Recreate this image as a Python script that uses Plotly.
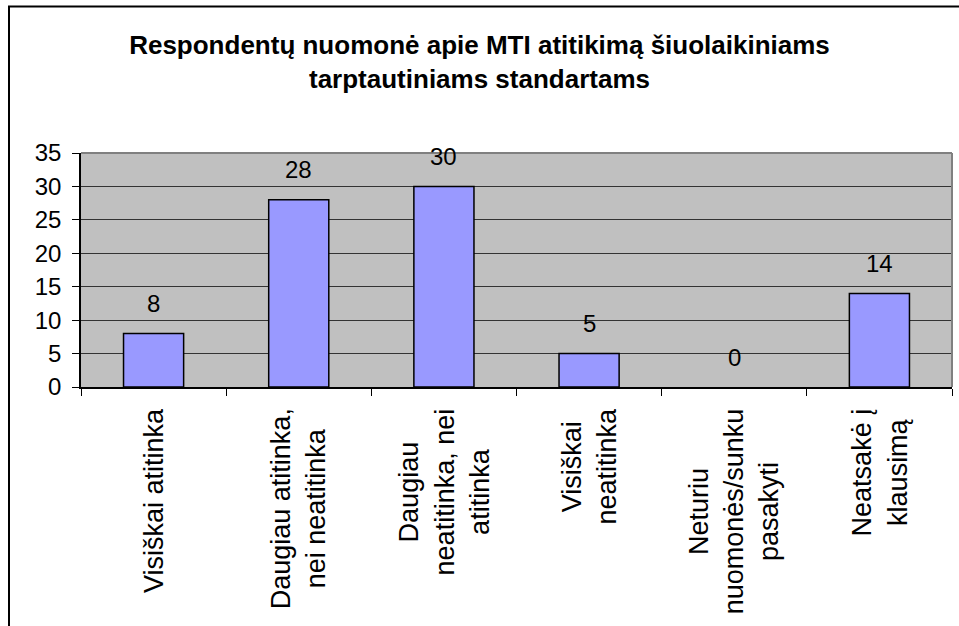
import plotly.graph_objects as go

categories = [
    "Visiškai atitinka",
    "Daugiau atitinka,<br>nei neatitinka",
    "Daugiau<br>neatitinka, nei<br>atitinka",
    "Visiškai<br>neatitinka",
    "Neturiu<br>nuomonės/sunku<br>pasakyti",
    "Neatsakė į<br>klausimą",
]
values = [8, 28, 30, 5, 0, 14]
y_ticks = [0, 5, 10, 15, 20, 25, 30, 35]
title_text = "<b>Respondentų nuomonė apie MTI atitikimą šiuolaikiniams<br>tarptautiniams standartams</b>"

FONT = "Liberation Sans, Arial, sans-serif"
x_ids = list(range(len(categories)))

fig = go.Figure()
fig.add_trace(go.Bar(
    x=x_ids, y=values,
    marker=dict(color="#9999FF",
                line=dict(color="#000000", width=[1.5 if v > 0 else 0 for v in values])),
    hoverinfo="skip",
))

annotations = []
for i, v in zip(x_ids, values):
    annotations.append(dict(
        x=i, y=v, xref="x", yref="y", text=str(v), showarrow=False,
        yanchor="middle", yshift=30, font=dict(family=FONT, size=24, color="#000000"),
    ))
for i, c in zip(x_ids, categories):
    annotations.append(dict(
        x=i, y=0, xref="x", yref="paper", text=c, showarrow=False,
        textangle=-90, yanchor="top", xanchor="center", yshift=-19, align="center",
        font=dict(family=FONT, size=27, color="#000000"),
    ))

fig.update_layout(
    width=959, height=626,
    margin=dict(l=81, r=7, t=153, b=239),
    paper_bgcolor="#FFFFFF",
    plot_bgcolor="#C0C0C0",
    bargap=0.586,
    showlegend=False,
    font=dict(family=FONT, size=24, color="#000000"),
    title=dict(text=title_text, x=0.5, xanchor="center", xref="container",
               y=1 - 54 / 626, yanchor="middle", yref="container",
               font=dict(family=FONT, size=26, color="#000000")),
    xaxis=dict(
        type="linear", range=[-0.5, len(categories) - 0.5],
        tickvals=[i - 0.5 for i in range(len(categories) + 1)],
        showticklabels=False, ticks="outside", ticklen=7, tickcolor="#000000",
        showgrid=False, zeroline=False, showline=True, linecolor="#000000", linewidth=1.5,
    ),
    yaxis=dict(
        range=[0, 35], tickvals=y_ticks, ticks="outside", ticklen=7, tickcolor="#000000",
        ticklabelstandoff=6,
        showgrid=True, gridcolor="#333333", gridwidth=1.2, zeroline=False,
        showline=True, linecolor="#000000", linewidth=1.5,
        tickfont=dict(family=FONT, size=24, color="#000000"),
    ),
    annotations=annotations,
    shapes=[
        dict(type="line", xref="paper", yref="paper", x0=0, x1=1, y0=1, y1=1,
             line=dict(color="#808080", width=2)),
        dict(type="line", xref="paper", yref="paper", x0=1, x1=1, y0=0, y1=1,
             line=dict(color="#808080", width=2)),
        dict(type="rect", xref="paper", yref="paper",
             x0=-72 / 871, x1=1.2, y0=-1.5, y1=380.5 / 234,
             line=dict(color="#000000", width=2), fillcolor="rgba(0,0,0,0)", layer="below"),
    ],
)

fig.write_html("out.html", config={"displayModeBar": False},
               post_script="document.body.style.margin='0';document.body.style.padding='0';")
